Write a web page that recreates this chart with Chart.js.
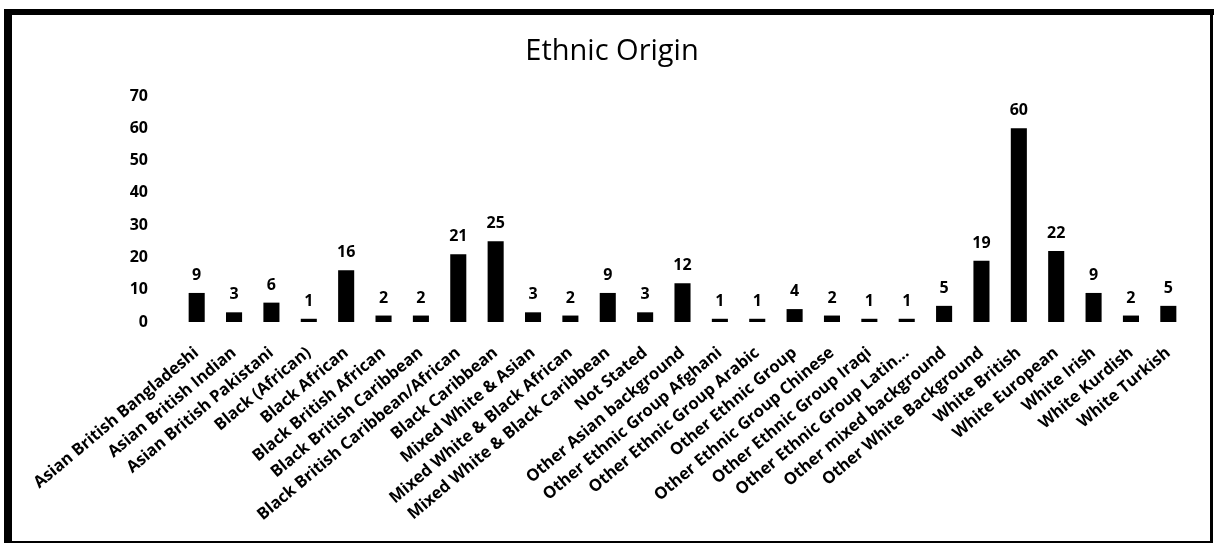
<!DOCTYPE html>
<html>
<head>
<meta charset="utf-8">
<script src="https://cdn.jsdelivr.net/npm/chart.js@4"></script>
<style>
html,body{margin:0;padding:0;background:#fff;}
#wrap{position:absolute;left:0;top:0;width:1216px;height:545px;}
</style>
</head>
<body>
<div id="wrap"><canvas id="c" width="1216" height="545"></canvas></div>
<script>
const categories = [
  "Asian British Bangladeshi","Asian British Indian","Asian British Pakistani","Black (African)",
  "Black African","Black British African","Black British Caribbean","Black British Caribbean/African",
  "Black Caribbean","Mixed White & Asian","Mixed White & Black African","Mixed White & Black Caribbean",
  "Not Stated","Other Asian background","Other Ethnic Group Afghani","Other Ethnic Group Arabic",
  "Other Ethnic Group","Other Ethnic Group Chinese","Other Ethnic Group Iraqi","Other Ethnic Group Latin...",
  "Other mixed background","Other White Background","White British","White European",
  "White Irish","White Kurdish","White Turkish"
];
const counts = [9,3,6,1,16,2,2,21,25,3,2,9,3,12,1,1,4,2,1,1,5,19,60,22,9,2,5];
const yTicks = [0,10,20,30,40,50,60,70];
const chartTitle = "Ethnic Origin";

const FONT = "'Open Sans', sans-serif";

const frame = {
  id: 'frame',
  beforeDraw(chart){
    const ctx = chart.ctx;
    ctx.save();
    ctx.fillStyle = '#fff';
    ctx.fillRect(0,0,chart.width,chart.height);
    ctx.fillStyle = '#000';
    ctx.fillRect(4, 9, 1210, 6);      // top
    ctx.fillRect(4, 9, 8, 534);       // left
    ctx.fillRect(1210, 9, 3, 534);    // right
    ctx.fillRect(4, 541, 1209, 2);    // bottom
    ctx.font = "normal 29px " + FONT;
    ctx.textAlign = 'center';
    ctx.textBaseline = 'alphabetic';
    ctx.fillText(chartTitle, 612, 60);
    ctx.restore();
  }
};
const valueLabels = {
  id: 'valueLabels',
  afterDatasetsDraw(chart){
    const ctx = chart.ctx;
    const meta = chart.getDatasetMeta(0);
    ctx.save();
    ctx.fillStyle = '#000';
    ctx.font = "bold 16px " + FONT;
    ctx.textAlign = 'center';
    ctx.textBaseline = 'alphabetic';
    meta.data.forEach((bar, i) => {
      ctx.fillText(String(counts[i]), bar.x, bar.y - 13);
    });
    ctx.restore();
  }
};

new Chart(document.getElementById('c'), {
  type: 'bar',
  data: {
    labels: categories,
    datasets: [{
      data: counts,
      backgroundColor: '#000',
      borderWidth: 0,
      barPercentage: 0.43,
      categoryPercentage: 1.0
    }]
  },
  options: {
    responsive: false,
    animation: false,
    layout: { padding: { left: 0, right: 29, top: 96, bottom: 8 } },
    plugins: {
      legend: { display: false },
      tooltip: { enabled: false },
      title: { display: false }
    },
    scales: {
      x: {
        grid: { display: false },
        border: { display: false },
        ticks: {
          color: '#000',
          font: { family: FONT, size: 16.5, weight: 'bold' },
          minRotation: 40, maxRotation: 40,
          autoSkip: false,
          padding: 13
        },
        afterFit(scale){ scale.height = 545 - 8 - 322; }
      },
      y: {
        min: 0, max: 70,
        grid: { display: false },
        border: { display: false },
        afterBuildTicks(scale){ scale.ticks = yTicks.map(v => ({value: v})); },
        ticks: {
          color: '#000',
          font: { family: FONT, size: 16, weight: 'bold' },
          padding: 22
        },
        afterFit(scale){ scale.width = 178; }
      }
    }
  },
  plugins: [frame, valueLabels]
});
</script>
</body>
</html>
